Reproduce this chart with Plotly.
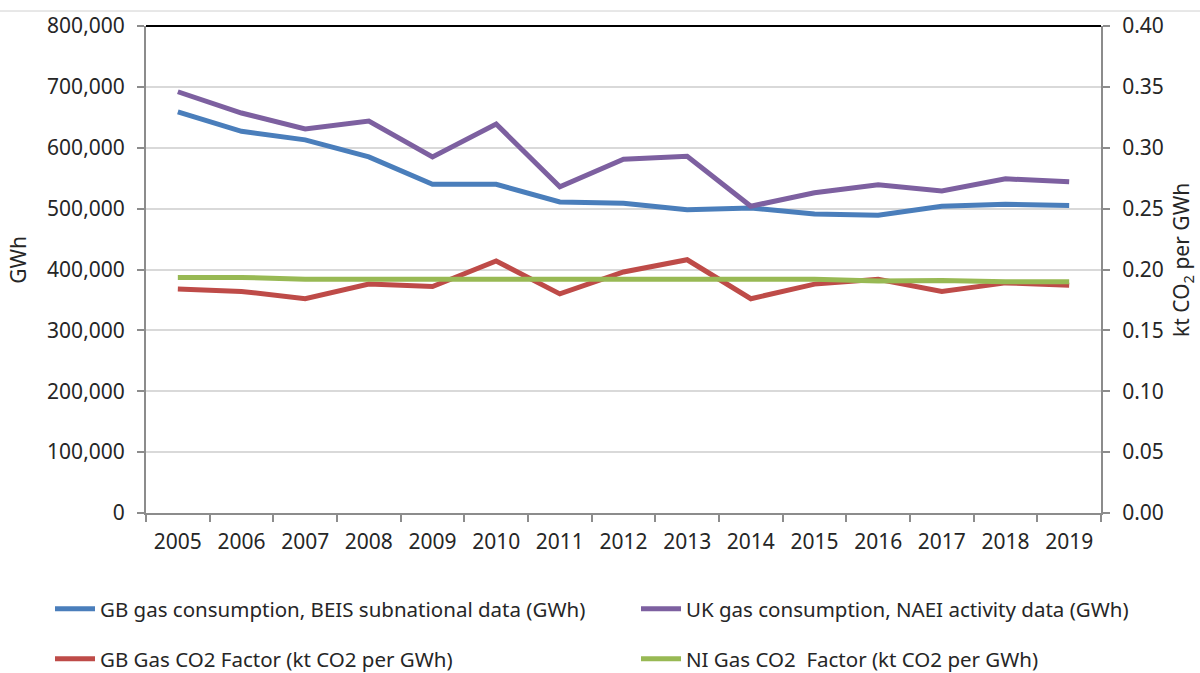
import plotly.graph_objects as go

years = [str(y) for y in range(2005, 2020)]

gb_consumption = [659000, 627000, 613000, 585000, 540000, 540000, 511000, 509000,
                  498000, 501000, 491000, 489000, 504000, 507000, 505000]
uk_consumption = [692000, 657000, 631000, 644000, 585000, 639000, 536000, 581000,
                  586000, 504000, 526000, 539000, 529000, 549000, 544000]
gb_factor = [0.184, 0.182, 0.176, 0.188, 0.186, 0.207, 0.180, 0.198,
             0.208, 0.176, 0.188, 0.192, 0.182, 0.189, 0.187]
ni_factor = [0.1935, 0.1935, 0.192, 0.192, 0.192, 0.1915, 0.192, 0.192,
             0.192, 0.192, 0.192, 0.1905, 0.191, 0.190, 0.190]

left_ticks = list(range(0, 800001, 100000))
right_ticks = [i * 0.05 for i in range(9)]

FONT = "Noto Sans"
TEXT = "#262626"
AXIS = "#8c8c8c"
TICK_SIZE = 21
LEGEND_SIZE = 20.5

W, H = 1200, 673

# one legend box per entry so the 2x2 grid sits where the reference has it
legend_pos = {
    "legend": (50, 609),
    "legend2": (636, 609),
    "legend3": (50, 659),
    "legend4": (636, 659),
}

fig = go.Figure()
fig.add_trace(go.Scatter(x=years, y=gb_consumption, mode="lines", legend="legend",
                         name="GB gas consumption, BEIS subnational data (GWh)",
                         line={"color": "#4a7ebb", "width": 5}))
fig.add_trace(go.Scatter(x=years, y=uk_consumption, mode="lines", legend="legend2",
                         name="UK gas consumption, NAEI activity data (GWh)",
                         line={"color": "#7d60a0", "width": 5}))
fig.add_trace(go.Scatter(x=years, y=gb_factor, mode="lines", yaxis="y2", legend="legend3",
                         name="GB Gas CO2 Factor (kt CO2 per GWh)",
                         line={"color": "#be4b48", "width": 5}))
fig.add_trace(go.Scatter(x=years, y=ni_factor, mode="lines", yaxis="y2", legend="legend4",
                         name="NI Gas CO2  Factor (kt CO2 per GWh)",
                         line={"color": "#98b954", "width": 5}))

legends = {}
for key, (lx, ly) in legend_pos.items():
    legends[key] = {
        "xref": "container",
        "yref": "container",
        "x": lx / W,
        "xanchor": "left",
        "y": 1 - ly / H,
        "yanchor": "middle",
        "font": {"size": LEGEND_SIZE, "color": TEXT},
        "bgcolor": "rgba(0,0,0,0)",
        "itemwidth": 40,
    }

fig.update_layout(
    width=W,
    height=H,
    paper_bgcolor="white",
    plot_bgcolor="white",
    margin={"l": 146, "r": 99, "t": 26, "b": 160, "autoexpand": False},
    font={"family": FONT, "size": TICK_SIZE, "color": TEXT},
    showlegend=True,
    xaxis={
        "type": "category",
        "range": [-0.5, len(years) - 0.5],
        "tickson": "boundaries",
        "ticks": "outside",
        "ticklen": 7,
        "tickcolor": AXIS,
        "tickwidth": 2,
        "ticklabelstandoff": 9,
        "tickangle": 0,
        "showline": True,
        "linecolor": AXIS,
        "linewidth": 2,
        "showgrid": False,
        "automargin": False,
        "tickfont": {"size": TICK_SIZE, "color": TEXT},
    },
    yaxis={
        "range": [0, 800000],
        "tickvals": left_ticks,
        "tickformat": ",d",
        "ticks": "outside",
        "ticklen": 7,
        "tickcolor": AXIS,
        "tickwidth": 2,
        "ticklabelstandoff": 8,
        "showline": True,
        "linecolor": AXIS,
        "linewidth": 2,
        "gridcolor": "#d9d9d9",
        "gridwidth": 2,
        "zeroline": False,
        "automargin": False,
        "tickfont": {"size": TICK_SIZE, "color": TEXT},
    },
    yaxis2={
        "overlaying": "y",
        "side": "right",
        "range": [0, 0.4],
        "tickvals": right_ticks,
        "tickformat": ".2f",
        "ticks": "outside",
        "ticklen": 7,
        "tickcolor": AXIS,
        "tickwidth": 2,
        "ticklabelstandoff": 8,
        "showline": True,
        "linecolor": AXIS,
        "linewidth": 2,
        "showgrid": False,
        "zeroline": False,
        "automargin": False,
        "tickfont": {"size": TICK_SIZE, "color": TEXT},
    },
    **legends,
)

# axis titles as annotations so they sit at fixed spots in the margins
fig.add_annotation(text="GWh", xref="paper", yref="paper", x=-0.134, y=0.52,
                   textangle=-90, showarrow=False, xanchor="center", yanchor="middle",
                   font={"size": TICK_SIZE, "color": TEXT})
fig.add_annotation(text="kt CO<sub>2</sub> per GWh", xref="paper", yref="paper",
                   x=1.085, y=0.52, textangle=-90, showarrow=False,
                   xanchor="center", yanchor="middle",
                   font={"size": TICK_SIZE, "color": TEXT})

# black top border of the plot area
fig.add_shape(type="line", xref="paper", yref="paper", x0=0, x1=1, y0=1, y1=1,
              line={"color": "black", "width": 2})
# thin grey rule at the very top of the picture
fig.add_shape(type="line", xref="paper", yref="paper", x0=-0.1529, x1=1.1037,
              y0=1.0308, y1=1.0308, line={"color": "#d0d0d0", "width": 1})

# drop the default body margin so the figure fills the window exactly
fig.write_html(
    "out.html",
    config={"displayModeBar": False},
    post_script="document.body.style.margin='0';document.body.style.overflow='hidden';",
)
